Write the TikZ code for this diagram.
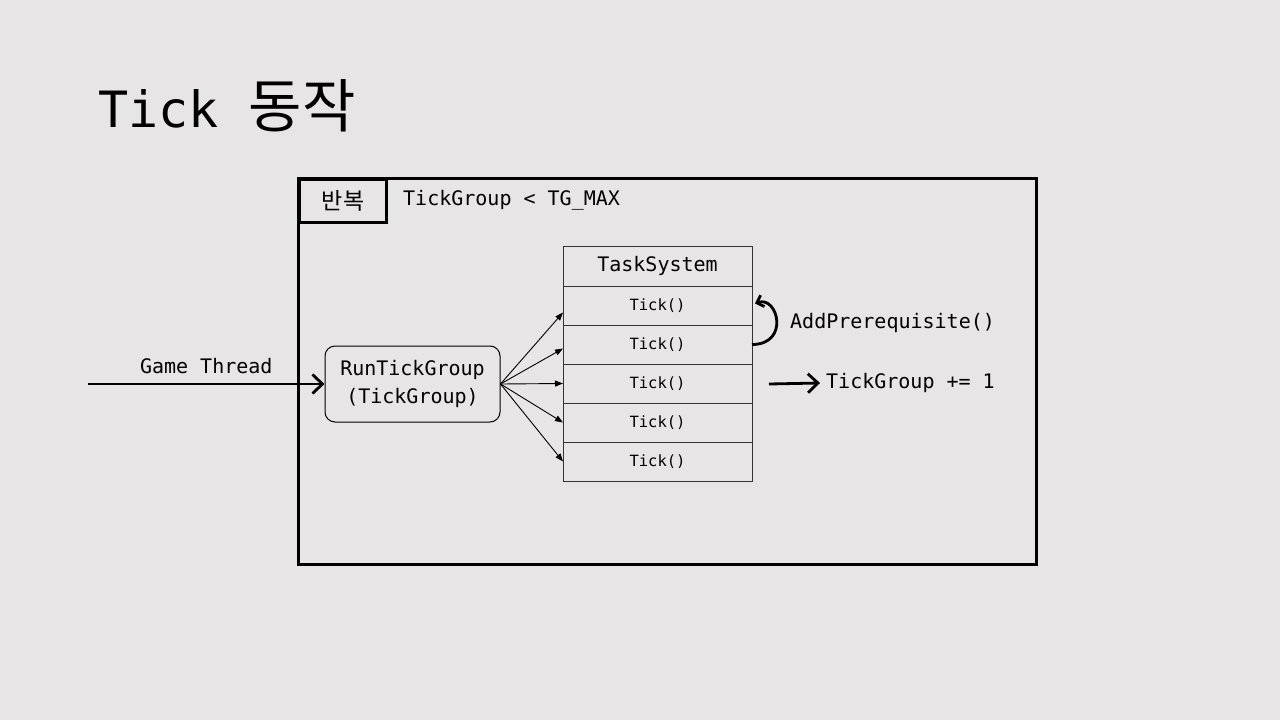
\documentclass[tikz,border=0pt]{standalone}
\usepackage{fontspec}
\setmonofont{DejaVu Sans Mono}
\newfontfamily\krfont{Noto Sans CJK KR}
\usetikzlibrary{positioning, arrows.meta}
\definecolor{slidebg}{HTML}{E7E5E6}
\definecolor{gridln}{HTML}{333333}
\tikzset{
  % --- Khung lap ---------------------------------------------
  loopframe/.style={draw, line width=3pt, fill=none, outer sep=0pt},
  looplabel/.style={draw, line width=3pt, fill=slidebg, minimum width=87,
    minimum height=43, font=\krfont\fontsize{23}{28}\selectfont, inner sep=0pt},
  cond/.style={font=\ttfamily\fontsize{20}{26}\selectfont, inner sep=3pt},
  % --- TaskSystem ----------------------------------------------
  tshead/.style={draw=gridln, line width=1pt, minimum width=189,
    minimum height=40, outer sep=0pt, font=\ttfamily\fontsize{20}{26}\selectfont},
  tickrow/.style={draw=gridln, line width=1pt, minimum width=189,
    minimum height=39, outer sep=0pt, font=\ttfamily\fontsize{15.5}{20}\selectfont},
  runbox/.style={draw, line width=1pt, rounded corners=10pt, minimum width=175,
    minimum height=76, align=center, font=\ttfamily\fontsize{20}{28}\selectfont},
  % --- Mui ten -------------------------------------------------
  thickarr/.style={line width=2.8pt, -{Straight Barb[length=10pt, width=19pt]}},
  fanarr/.style={line width=0.9pt, -{Triangle[length=8pt, width=6pt]}},
  looparr/.style={line width=2.8pt, -{Straight Barb[length=6pt, width=12pt]}}
}
\begin{document}
\begin{tikzpicture}[x=1pt, y=-1pt, font=\ttfamily]

  \fill[slidebg] (0,0) rectangle (1280,720);

  % --- Tieu de ------------------------------------------------------
  \node[anchor=base west, inner sep=0pt, font=\ttfamily\fontsize{50}{60}\selectfont]
    (title) at (98,127) {Tick {\krfont\fontsize{58}{60}\selectfont 동작}};

  % --- Khung lap ----------------------------------------------------
  \node[loopframe, minimum width=738, minimum height=386] (loop) at (667,371) {};
  \node[looplabel, anchor=north west] (rep) at (loop.north west) {반복};
  \node[cond, anchor=west] (cnd) at (400,200) {TickGroup < TG\char"5F MAX};

  % --- RunTickGroup ---------------------------------------------------
  \node[runbox] (run) at (412.5,384) {RunTickGroup\\(TickGroup)};
  \coordinate (gt) at (88,384);
  \draw[thickarr] (gt) -- node[cond, above=6pt] {Game Thread} (run.west);

  % --- TaskSystem -----------------------------------------------------
  \node[tshead] (ts) at (657.5,266) {TaskSystem};
  \node[tickrow, below=0 of ts] (t1) {Tick()};
  \node[tickrow, below=0 of t1] (t2) {Tick()};
  \node[tickrow, below=0 of t2] (t3) {Tick()};
  \node[tickrow, below=0 of t3] (t4) {Tick()};
  \node[tickrow, below=0 of t4] (t5) {Tick()};

  \foreach \t/\d in {t1/-7, t2/-4, t3/0, t4/0, t5/0}
    \draw[fanarr] (run.east) -- ([yshift=\d pt]\t.west);

  % --- AddPrerequisite ------------------------------------------------
  \draw[looparr] (t2.east) .. controls ([xshift=38pt]t2.east) and ([xshift=26pt, yshift=10pt]t1.east) .. ([xshift=3pt, yshift=2pt]t1.east);
  \node[cond, anchor=west] (pre) at (787,323) {AddPrerequisite()};

  % --- TickGroup += 1 -------------------------------------------------
  \node[cond, anchor=west] (inc) at (823,383) {TickGroup += 1};
  \coordinate (incs) at (769,384);
  \draw[thickarr] (incs) -- ([xshift=-3pt]inc.west);

\end{tikzpicture}
\end{document}
